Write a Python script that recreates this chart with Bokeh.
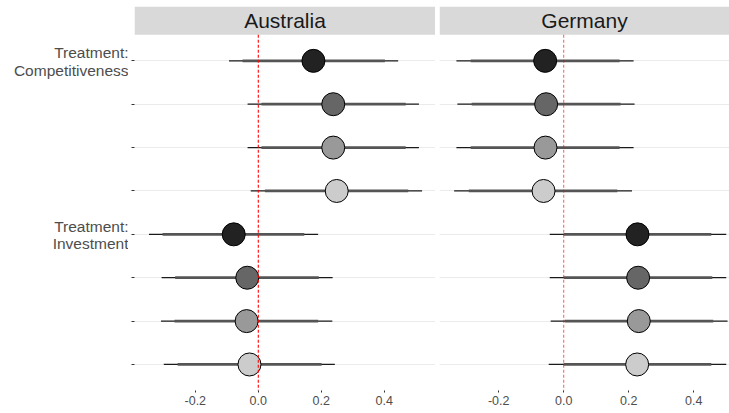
from bokeh.plotting import figure
from bokeh.layouts import row
from bokeh.models import Range1d, FixedTicker, NumeralTickFormatter, ColumnDataSource
from bokeh.core.properties import value
from bokeh.embed import file_html
from bokeh.resources import INLINE

# ---------------- data ----------------
row_pos = [1, 2, 3, 4, 5, 6, 7, 8]
row_labels = ["Treatment:\nCompetitiveness", "", "", "", "Treatment:\nInvestment", "", "", ""]
fills = ["#222222", "#666666", "#999999", "#cccccc", "#222222", "#666666", "#999999", "#cccccc"]

panels = ["Australia", "Germany"]

aus_est = [0.175, 0.238, 0.238, 0.249, -0.078, -0.035, -0.037, -0.028]
aus_lo95 = [-0.093, -0.034, -0.034, -0.024, -0.347, -0.307, -0.309, -0.300]
aus_hi95 = [0.444, 0.510, 0.510, 0.520, 0.190, 0.236, 0.235, 0.243]
aus_lo90 = [-0.050, 0.010, 0.010, 0.021, -0.304, -0.264, -0.266, -0.256]
aus_hi90 = [0.402, 0.468, 0.468, 0.476, 0.146, 0.192, 0.190, 0.201]

ger_est = [-0.057, -0.054, -0.056, -0.062, 0.227, 0.229, 0.231, 0.226]
ger_lo95 = [-0.330, -0.327, -0.330, -0.337, -0.043, -0.043, -0.040, -0.046]
ger_hi95 = [0.215, 0.218, 0.215, 0.210, 0.500, 0.500, 0.504, 0.500]
ger_lo90 = [-0.286, -0.283, -0.286, -0.292, 0.000, 0.000, 0.003, 0.000]
ger_hi90 = [0.172, 0.175, 0.172, 0.165, 0.454, 0.457, 0.460, 0.454]

x_ticks = [-0.2, 0.0, 0.2, 0.4]

FONT = "Liberation Sans"
Y_TOP = -0.253    # top of strip
Y_PANEL = 0.4     # top of panel (strip bottom)
Y_BOTTOM = 8.6
TOP_BORDER = 6
FRAME_H = 384
LABEL_W = 128

yr = Range1d(Y_BOTTOM, Y_TOP)

# ---------------- y-axis label column ----------------
lab = figure(frame_width=LABEL_W, frame_height=FRAME_H,
             x_range=Range1d(0, LABEL_W), y_range=yr,
             output_backend="svg", toolbar_location=None,
             min_border_left=0, min_border_right=0,
             min_border_top=TOP_BORDER, min_border_bottom=0)
lab.axis.visible = False
lab.grid.visible = False
lab.outline_line_color = None
lab.background_fill_color = "white"
lab.border_fill_color = "white"

lx, ly, lt = [], [], []
for pos, txt in zip(row_pos, row_labels):
    if not txt:
        continue
    top_line, bottom_line = txt.split("\n")
    for line, off in ((top_line, -0.19), (bottom_line, 0.215)):
        lx.append(LABEL_W)
        ly.append(pos + off)
        lt.append(line)
lab.text(x=lx, y=ly, text=lt, text_align="right", text_baseline="middle",
         text_font=value(FONT), text_font_size="15.5px", text_color="#4d4d4d")


def make_panel(name, est, lo95, hi95, lo90, hi90, xr, frame_w, left_border, show_ticks, vline_alpha):
    p = figure(frame_width=frame_w, frame_height=FRAME_H,
               x_range=Range1d(*xr), y_range=yr,
               output_backend="svg", toolbar_location=None,
               min_border_left=left_border, min_border_right=0,
               min_border_top=TOP_BORDER, min_border_bottom=0)
    p.outline_line_color = None
    p.background_fill_color = "white"
    p.border_fill_color = "white"

    # grid
    p.xgrid.visible = False
    p.ygrid.ticker = FixedTicker(ticks=row_pos)
    p.ygrid.grid_line_color = "#ebebeb"
    p.ygrid.grid_line_width = 1.2

    # x axis
    xa = p.xaxis[0]
    xa.ticker = FixedTicker(ticks=x_ticks)
    xa.formatter = NumeralTickFormatter(format="0.0")
    xa.axis_line_color = None
    xa.major_tick_in = 0
    xa.major_tick_out = 2
    xa.major_tick_line_color = "#333333"
    xa.minor_tick_line_color = None
    xa.major_label_text_font = FONT
    xa.major_label_text_font_size = "12.5px"
    xa.major_label_text_color = "#4d4d4d"
    xa.major_label_standoff = 3

    # y axis: tick marks only (labels are in the label column)
    ya = p.yaxis[0]
    ya.ticker = FixedTicker(ticks=row_pos)
    ya.major_label_overrides = {k: "" for k in row_pos}
    ya.axis_line_color = None
    ya.major_tick_in = 0
    ya.major_tick_out = 3
    ya.major_tick_line_color = "#333333"
    ya.minor_tick_line_color = None
    ya.major_label_standoff = 0
    ya.visible = show_ticks

    # strip
    p.quad(left=[xr[0]], right=[xr[1]], top=[Y_TOP], bottom=[Y_PANEL],
           fill_color="#d9d9d9", line_color=None)
    p.text(x=[(xr[0] + xr[1]) / 2], y=[(Y_TOP + Y_PANEL) / 2], text=[name],
           text_align="center", text_baseline="middle",
           text_font=value(FONT), text_font_size="21px", text_color="#1a1a1a")

    src = ColumnDataSource(dict(y=row_pos, est=est, lo95=lo95, hi95=hi95,
                                lo90=lo90, hi90=hi90, fill=fills))
    p.segment(x0="lo95", x1="hi95", y0="y", y1="y", source=src,
              line_color="#1a1a1a", line_width=1.2)
    p.segment(x0="lo90", x1="hi90", y0="y", y1="y", source=src,
              line_color="#555555", line_width=2.8)
    p.scatter(x="est", y="y", source=src, size=23, fill_color="fill",
              line_color="black", line_width=1)

    p.segment(x0=[0], x1=[0], y0=[Y_PANEL], y1=[Y_BOTTOM + 0.1],
              line_color="red", line_alpha=vline_alpha, line_width=1.1, line_dash="3 2")
    return p


left = make_panel("Australia", aus_est, aus_lo95, aus_hi95, aus_lo90, aus_hi90,
                  (-0.393, 0.5626), 301, 134 - LABEL_W, True, 1.0)
right = make_panel("Germany", ger_est, ger_lo95, ger_hi95, ger_lo90, ger_hi90,
                   (-0.382, 0.510), 290, 4, False, 0.6)

layout = row(lab, left, right, spacing=0)
open("out.html", "w").write(file_html(layout, INLINE))
